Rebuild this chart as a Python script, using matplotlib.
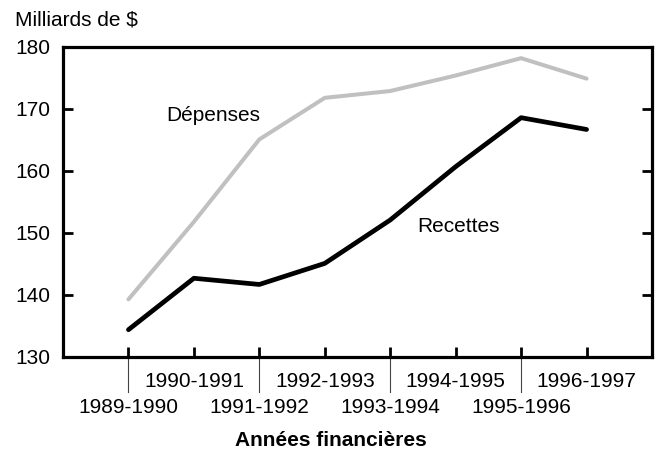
import matplotlib.pyplot as plt

plt.rcParams['font.family'] = ['Liberation Sans', 'DejaVu Sans']

annees = ['1989-1990', '1990-1991', '1991-1992', '1992-1993', '1993-1994',
          '1994-1995', '1995-1996', '1996-1997']
depenses = [139.3, 151.8, 165.1, 171.8, 172.9, 175.4, 178.2, 174.9]
recettes = [134.4, 142.7, 141.7, 145.1, 152.1, 160.7, 168.6, 166.7]
y_ticks = [130, 140, 150, 160, 170, 180]

fig = plt.figure(figsize=(6.58, 4.51), dpi=100)
ax = fig.add_axes([63 / 658, 1 - 357 / 451, (652 - 63) / 658, (357 - 47) / 451])

x = list(range(len(annees)))
ax.plot(x, depenses, color='#c0c0c0', lw=2.9, solid_capstyle='round')
ax.plot(x, recettes, color='black', lw=3.4, solid_capstyle='round')

ax.text(1.29, 168.9, 'Dépenses', fontsize=15, ha='center', va='center')
ax.text(5.04, 151.1, 'Recettes', fontsize=15, ha='center', va='center')

ax.set_xlim(-1, 8)
ax.set_ylim(130, 180)
ax.set_yticks(y_ticks)
ax.set_xticks(x)
ax.set_xticklabels([])
ax.tick_params(axis='y', direction='in', length=7, width=2, labelsize=15,
               right=True, pad=9)
ax.tick_params(axis='x', direction='in', length=7, width=2)
for s in ax.spines.values():
    s.set_linewidth(2.3)

# staggered year labels with separator lines
for i, lab in enumerate(annees):
    if i % 2 == 0:
        ax.plot([i, i], [130, 124.4], color='#444444', lw=0.8, clip_on=False)
        ax.text(i, 121.8, lab, fontsize=15, ha='center', va='center')
    else:
        ax.text(i, 126.1, lab, fontsize=15, ha='center', va='center')

fig.text(15 / 658, 1 - 20 / 451, 'Milliards de $', fontsize=15, va='center')
fig.text(331 / 658, 1 - 440 / 451, 'Années financières', fontsize=15,
         fontweight='bold', ha='center', va='center')

plt.savefig('out.png', dpi=100)
